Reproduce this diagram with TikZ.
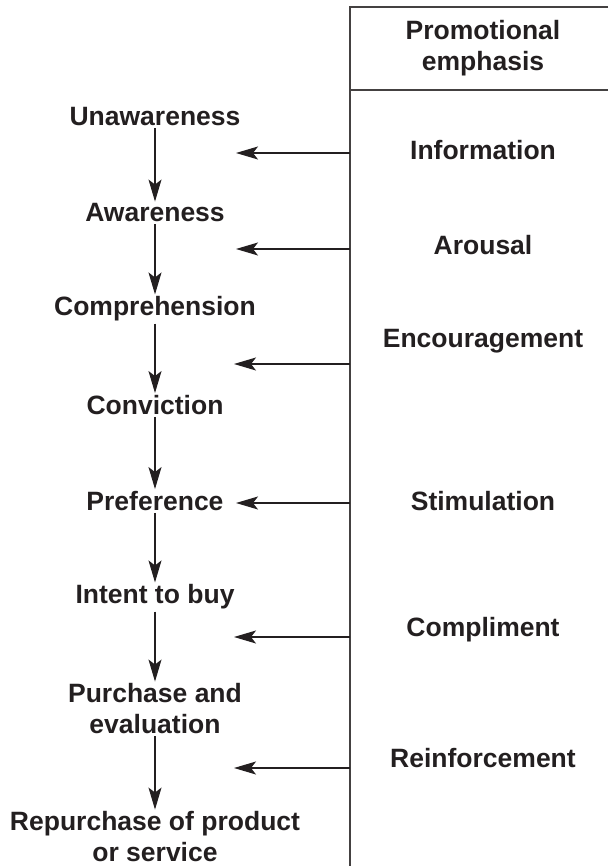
\documentclass[tikz,border=0pt]{standalone}
\usepackage{fontspec}
\setmainfont{Liberation Sans}
\usetikzlibrary{arrows.meta,positioning}
\definecolor{ink}{HTML}{231F20}
\tikzset{stage/.style={inner sep=2pt, text=ink, align=center, font=\fontsize{26.5}{31}\selectfont\bfseries}}
\tikzstyle{emph}=[stage]
\tikzstyle{push}=[->, draw=ink, line width=1.2pt]

\begin{document}
\begin{tikzpicture}[x=1pt, y=1pt, >={Stealth[length=22pt,width=13pt,inset=5pt]}, node distance=96pt]
\useasboundingbox (0,0) rectangle (608,-866);
% hierarchy of effects
\node[stage] at (155,-117) (Unaw){Unawareness};
\node[stage][below of=Unaw] (Aw){Awareness};
\node[stage][below of=Aw] (Comp){Comprehension};
\node[stage][below of=Comp] (Conv){Conviction};
\node[stage][below of=Conv] (Pref){Preference};
\node[stage][below of=Pref] (Int){Intent to buy};
\node[stage][below of=Int, node distance=112pt] (Purch){Purchase and\\evaluation};
\node[stage][below of=Purch, node distance=128pt] (Repur){Repurchase of product\\or service};
\path(Unaw) edge[push] (Aw)
	(Aw) edge[push] (Comp)
	(Comp) edge[push] (Conv)
	(Conv) edge[push] (Pref)
	(Pref) edge[push] (Int)
	(Int) edge[push] (Purch)
	(Purch) edge[push] (Repur);

% promotional emphasis
\coordinate (TL) at (350,-7);
\coordinate (TR) at (608,-7);
\coordinate (BL) at (350,-866);
\coordinate (HL) at (350,-90);
\coordinate (HR) at (608,-90);
\draw[draw=ink!85, line width=1.4pt] (TR) -- (TL) -- (BL);
\draw[draw=ink!85, line width=1.4pt] (HL) -- (HR);
\node[emph] at (483,-48) (Head){Promotional\\emphasis};
\node[emph] at (483,-150) (Info){Information};
\node[emph] at (483,-245) (Arou){Arousal};
\node[emph] at (483,-341) (Enc){Encouragement};
\node[emph] at (483,-501) (Stim){Stimulation};
\node[emph] at (483,-630) (Compl){Compliment};
\node[emph] at (483,-758) (Reinf){Reinforcement};

\coordinate (s1) at (350,-153); \coordinate (e1) at (236,-153);
\coordinate (s2) at (350,-249); \coordinate (e2) at (236,-249);
\coordinate (s3) at (350,-364); \coordinate (e3) at (234,-364);
\coordinate (s4) at (350,-503); \coordinate (e4) at (236,-503);
\coordinate (s5) at (350,-637); \coordinate (e5) at (234,-637);
\coordinate (s6) at (350,-768); \coordinate (e6) at (234,-768);
\path(s1) edge[push] (e1)
	(s2) edge[push] (e2)
	(s3) edge[push] (e3)
	(s4) edge[push] (e4)
	(s5) edge[push] (e5)
	(s6) edge[push] (e6);
\end{tikzpicture}
\end{document}
